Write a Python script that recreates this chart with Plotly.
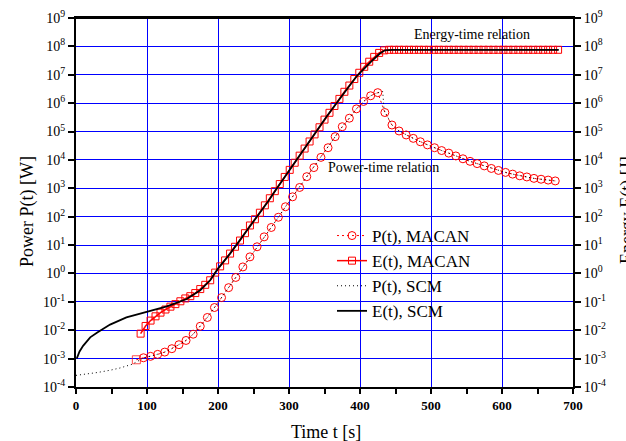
import numpy as np
import plotly.graph_objects as go

# ---------------- data ----------------
# E(t), SCM  (time [s], log10 energy)
t_E_scm = [1, 5, 10, 20, 30, 48, 71, 100, 128, 156, 175, 189, 200, 217, 236, 259, 271,
           283, 300, 330, 353, 375, 395, 416, 428, 435, 445, 500, 600, 680]
logE_scm = [-3.0, -2.75, -2.55, -2.25, -2.08, -1.80, -1.55, -1.36, -1.16, -0.90, -0.59, -0.24,
            0.17, 0.70, 1.35, 2.12, 2.55, 3.0, 3.62, 4.70, 5.53, 6.27, 6.94, 7.47, 7.75, 7.86,
            7.88, 7.88, 7.88, 7.88]

# E(t), MACAN
t_E_mac = [91, 98, 105, 112, 119, 126, 133, 140, 147, 154, 161, 168, 175, 182, 189, 196, 203,
           210, 217, 224, 231, 238, 245, 252, 259, 266, 273, 280, 287, 294, 301, 308, 315, 322,
           329, 336, 343, 350, 357, 364, 371, 378, 385, 392, 399, 406, 413, 420, 427, 434, 441,
           448, 455, 462, 469, 476, 483, 490, 497, 504, 511, 518, 525, 532, 539, 546, 553, 560,
           567, 574, 581, 588, 595, 602, 609, 616, 623, 630, 637, 644, 651, 658, 665, 672, 679]
logE_mac = [-2.12, -1.85, -1.66, -1.51, -1.38, -1.27, -1.17, -1.08, -0.98, -0.88, -0.80, -0.69,
            -0.55, -0.40, -0.24, 0.03, 0.25, 0.46, 0.70, 0.94, 1.16, 1.42, 1.69, 1.91, 2.14, 2.40,
            2.65, 2.90, 3.15, 3.40, 3.65, 3.90, 4.15, 4.40, 4.65, 4.90, 5.15, 5.42, 5.66, 5.90,
            6.15, 6.40, 6.62, 6.85, 7.07, 7.28, 7.46, 7.63, 7.77, 7.86, 7.88,
            7.88, 7.88, 7.88, 7.88, 7.88, 7.88, 7.88, 7.88, 7.88, 7.88, 7.88, 7.88, 7.88, 7.88,
            7.88, 7.88, 7.88, 7.88, 7.88, 7.88, 7.88, 7.88, 7.88, 7.88, 7.88, 7.88, 7.88, 7.88,
            7.88, 7.88, 7.88, 7.88, 7.88, 7.88]

# P(t), MACAN (the very first MACAN power point is drawn as a square in the original)
t_P_mac_first = [85]
logP_mac_first = [-3.04]
t_P_mac = [95, 105, 115, 125, 135, 145, 155, 165, 175, 185, 195, 205, 215, 225, 235, 245,
           255, 265, 275, 285, 295, 305, 315, 325, 335, 345, 355, 365, 375, 385, 395, 405, 415,
           425, 435, 445, 455, 465, 475, 485, 495, 505, 515, 525, 535, 545, 555, 565, 575, 585,
           595, 605, 615, 625, 635, 645, 655, 665, 675]
logP_mac = [-2.97, -2.92, -2.85, -2.77, -2.65, -2.51, -2.36, -2.14, -1.86, -1.55, -1.20,
            -0.85, -0.50, -0.14, 0.23, 0.585, 0.94, 1.29, 1.62, 1.98, 2.35, 2.70, 3.03, 3.41,
            3.73, 4.09, 4.43, 4.82, 5.17, 5.47, 5.80, 6.06, 6.26, 6.37, 5.67, 5.23, 5.02, 4.88,
            4.76, 4.64, 4.53, 4.43, 4.33, 4.24, 4.14, 4.04, 3.95, 3.87, 3.79, 3.70, 3.63, 3.56,
            3.50, 3.44, 3.40, 3.35, 3.32, 3.29, 3.26]

# P(t), SCM
t_P_scm = [0, 15, 30, 48, 62, 79, 95, 105, 115, 125, 135, 145, 155, 165, 175, 185, 195, 205,
           215, 225, 235, 245, 255, 265, 275, 285, 295, 305, 315, 325, 335, 345, 355, 365, 375,
           385, 395, 405, 415, 425, 432, 434, 445, 455, 465, 475, 485, 495, 505, 515, 525, 535,
           545, 555, 565, 575, 585, 595, 605, 615, 625, 635, 645, 655, 665, 675]
logP_scm = [-3.59, -3.55, -3.49, -3.41, -3.33, -3.20, -2.98, -2.92, -2.85, -2.77, -2.65, -2.51,
            -2.36, -2.14, -1.86, -1.55, -1.20, -0.85, -0.50, -0.14, 0.23, 0.585, 0.94, 1.29,
            1.62, 1.98, 2.35, 2.70, 3.03, 3.41, 3.73, 4.09, 4.43, 4.82, 5.17, 5.47, 5.80, 6.06,
            6.26, 6.37, 6.41, 5.75, 5.23, 5.02, 4.88, 4.76, 4.64, 4.53, 4.43, 4.33, 4.24, 4.14,
            4.04, 3.95, 3.87, 3.79, 3.70, 3.63, 3.56, 3.50, 3.44, 3.40, 3.35, 3.32, 3.29, 3.26]

decades = list(range(-4, 10))
tick_text = ["10<sup>%d</sup>" % d for d in decades]
x_ticks = [0, 100, 200, 300, 400, 500, 600, 700]

# ---------------- figure ----------------
SERIF = "Liberation Serif"
RED = "#ff0000"

fig = go.Figure()
# link from the first (square) MACAN power point to the first circle
fig.add_trace(go.Scatter(
    x=t_P_mac_first + t_P_mac[:1], y=np.power(10.0, logP_mac_first + logP_mac[:1]),
    mode="lines+markers", showlegend=False, hoverinfo="skip",
    line=dict(color=RED, width=1, dash="2px,3px"),
    marker=dict(symbol=["square-open", "circle-open"], size=[8, 0], color=RED,
                line=dict(width=1, color=RED)),
    yaxis="y"))
fig.add_trace(go.Scatter(
    x=t_P_mac, y=np.power(10.0, logP_mac), name="P(t), MACAN", mode="lines+markers",
    line=dict(color=RED, width=1, dash="2px,3px"),
    marker=dict(symbol="circle-open", size=8, color=RED, line=dict(width=1, color=RED)),
    yaxis="y"))
fig.add_trace(go.Scatter(
    x=t_E_mac, y=np.power(10.0, logE_mac), name="E(t), MACAN", mode="lines+markers",
    line=dict(color=RED, width=1.5),
    marker=dict(symbol="square-open", size=7, color=RED, line=dict(width=1, color=RED)),
    yaxis="y2"))
fig.add_trace(go.Scatter(
    x=t_P_scm, y=np.power(10.0, logP_scm), name="P(t), SCM", mode="lines",
    line=dict(color="black", width=1, dash="1px,3px"), yaxis="y"))
fig.add_trace(go.Scatter(
    x=t_E_scm, y=np.power(10.0, logE_scm), name="E(t), SCM", mode="lines",
    line=dict(color="black", width=1.8), yaxis="y2"))

ytick_font = dict(family=SERIF, size=14, color="black")
common_y = dict(
    type="log", range=[-4, 9], tickvals=[10.0 ** d for d in decades], ticktext=tick_text,
    ticks="outside", ticklen=6, tickwidth=1.5, tickcolor="black",
    minor=dict(ticks="outside", ticklen=3, tickcolor="black", tickwidth=1, showgrid=False),
    showline=True, linecolor="black", linewidth=2, tickfont=ytick_font,
    zeroline=False, automargin=False,
)

fig.update_layout(
    width=626, height=441,
    margin=dict(l=76, r=53, t=18, b=54),
    paper_bgcolor="white", plot_bgcolor="white",
    showlegend=True,
    font=dict(family=SERIF, color="black"),
    xaxis=dict(
        range=[0, 700], tickvals=x_ticks, ticks="outside", ticklen=5, tickwidth=1.5,
        tickcolor="black",
        minor=dict(dtick=50, ticks="outside", ticklen=5, tickcolor="black", tickwidth=1.5,
                   showgrid=False),
        showgrid=True, gridcolor="#0000ff", gridwidth=1,
        showline=True, linecolor="black", linewidth=2, mirror=True,
        tickfont=dict(family=SERIF, size=13, color="black", weight="bold"),
        zeroline=False, automargin=False,
    ),
    yaxis=dict(showgrid=True, gridcolor="#0000ff", gridwidth=1, mirror=False, **common_y),
    yaxis2=dict(overlaying="y", side="right", showgrid=False, **common_y),
    legend=dict(
        x=(332 - 76) / 497, y=1 - (218 - 18) / 369, xanchor="left", yanchor="top",
        bgcolor="rgba(0,0,0,0)", borderwidth=0,
        font=dict(family=SERIF, size=17, color="black"),
        tracegroupgap=0,
    ),
)

# top frame line
fig.add_shape(type="line", xref="paper", yref="paper", x0=0, x1=1, y0=1, y1=1,
              line=dict(color="black", width=2))

annos = [
    dict(text="Energy-time relation", xref="x", yref="y", x=558, y=8.41, showarrow=False,
         font=dict(family=SERIF, size=14, color="black")),
    dict(text="Power-time relation", xref="x", yref="y", x=433, y=3.73, showarrow=False,
         font=dict(family=SERIF, size=14, color="black")),
    dict(text="Time t [s]", xref="paper", yref="paper", x=(326 - 76) / 497,
         y=-(432 - 387) / 369, showarrow=False, xanchor="center", yanchor="middle",
         font=dict(family=SERIF, size=18, color="black")),
    dict(text="Power P(t) [W]", xref="paper", yref="paper", x=(27 - 76) / 497,
         y=1 - (212 - 18) / 369, showarrow=False, textangle=-90, xanchor="center",
         yanchor="middle", font=dict(family=SERIF, size=18, color="black")),
    dict(text="Energy E(t) [J]", xref="paper", yref="paper", x=(627 - 76) / 497,
         y=1 - (210 - 18) / 369, showarrow=False, textangle=-90, xanchor="center",
         yanchor="middle", font=dict(family=SERIF, size=18, color="black")),
]
for a in annos:
    fig.add_annotation(**a)

fig.write_html("out.html")
